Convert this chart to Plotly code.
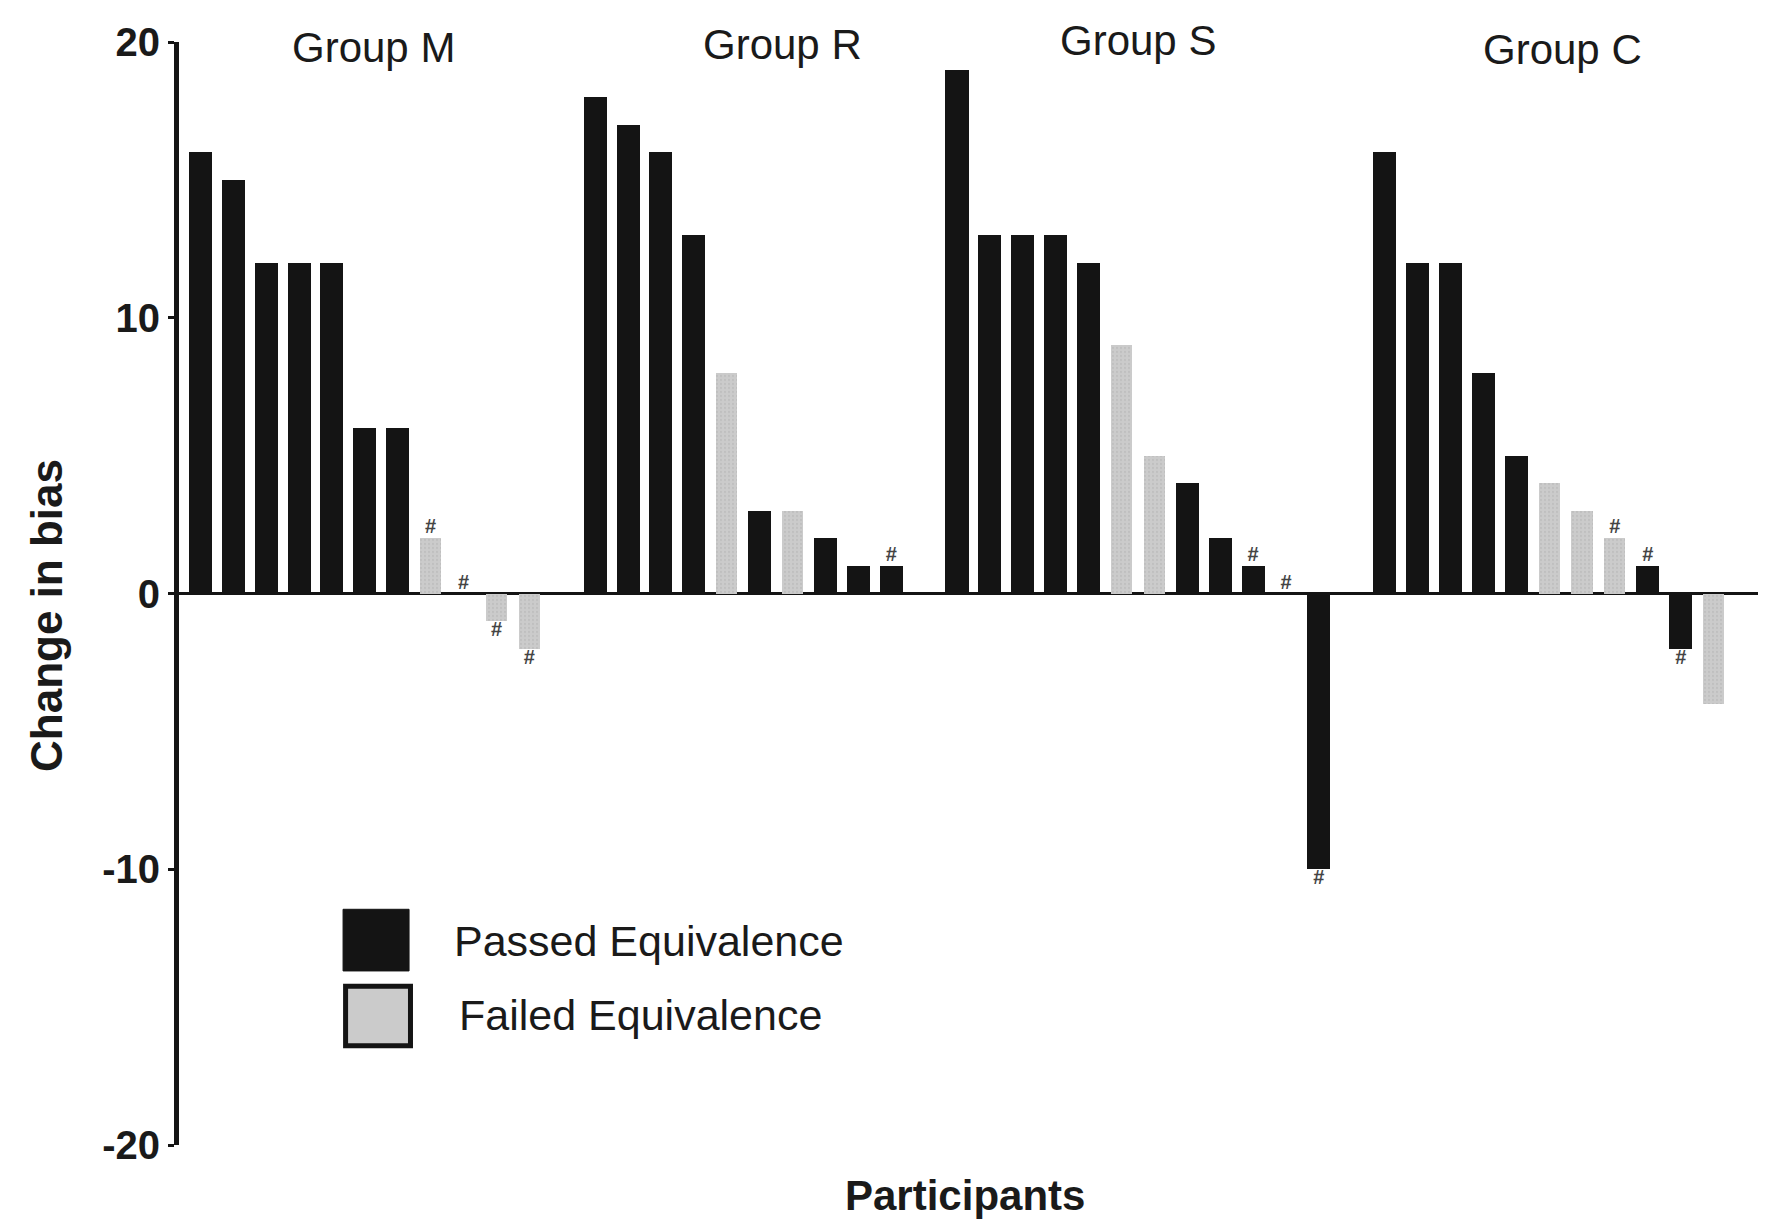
import plotly.graph_objects as go

# ---------------- data ----------------
groups = ["Group M", "Group R", "Group S", "Group C"]

m_vals = [16, 15, 12, 12, 12, 6, 6, 2, 0, -1, -2]
m_pass = [1, 1, 1, 1, 1, 1, 1, 0, 1, 0, 0]
m_hash = [0, 0, 0, 0, 0, 0, 0, 1, 1, 1, 1]

r_vals = [18, 17, 16, 13, 8, 3, 3, 2, 1, 1]
r_pass = [1, 1, 1, 1, 0, 1, 0, 1, 1, 1]
r_hash = [0, 0, 0, 0, 0, 0, 0, 0, 0, 1]

s_vals = [19, 13, 13, 13, 12, 9, 5, 4, 2, 1, 0, -10]
s_pass = [1, 1, 1, 1, 1, 0, 0, 1, 1, 1, 1, 1]
s_hash = [0, 0, 0, 0, 0, 0, 0, 0, 0, 1, 1, 1]

c_vals = [16, 12, 12, 8, 5, 4, 3, 2, 1, -2, -4]
c_pass = [1, 1, 1, 1, 1, 0, 0, 0, 1, 1, 0]
c_hash = [0, 0, 0, 0, 0, 0, 0, 1, 1, 1, 0]

y_ticks = [-20, -10, 0, 10, 20]
legend_labels = ["Passed Equivalence", "Failed Equivalence"]

# ---------------- build positions (one empty slot between groups) ----------------
all_vals, all_pass, all_hash, xs = [], [], [], []
group_centers = []
pos = 0
for vals, ps, hs in [(m_vals, m_pass, m_hash), (r_vals, r_pass, r_hash),
                     (s_vals, s_pass, s_hash), (c_vals, c_pass, c_hash)]:
    start = pos
    for v, p, h in zip(vals, ps, hs):
        xs.append(pos)
        all_vals.append(v)
        all_pass.append(p)
        all_hash.append(h)
        pos += 1
    group_centers.append((start + pos - 1) / 2)
    pos += 1  # gap slot

BLACK = "#141414"
GRAY = "#cbcbcb"

fig = go.Figure()

px = [x for x, p in zip(xs, all_pass) if p]
py = [v for v, p in zip(all_vals, all_pass) if p]
fx = [x for x, p in zip(xs, all_pass) if not p]
fy = [v for v, p in zip(all_vals, all_pass) if not p]

fig.add_trace(go.Bar(x=px, y=py, name=legend_labels[0], width=0.7,
                     marker=dict(color=BLACK, line=dict(width=0)), showlegend=False))
fig.add_trace(go.Bar(x=fx, y=fy, name=legend_labels[1], width=0.64,
                     marker=dict(color=GRAY, line=dict(width=0),
                                 pattern=dict(shape=".", fgcolor="#b4b4b4", bgcolor=GRAY,
                                              size=4, solidity=0.25)),
                     showlegend=False))

# '#' markers
hx_up = [x for x, v, h in zip(xs, all_vals, all_hash) if h and v >= 0]
hy_up = [v for v, h in zip(all_vals, all_hash) if h and v >= 0]
hx_dn = [x for x, v, h in zip(xs, all_vals, all_hash) if h and v < 0]
hy_dn = [v for v, h in zip(all_vals, all_hash) if h and v < 0]
fig.add_trace(go.Scatter(x=hx_up, y=hy_up, mode="text", text=["<b>#</b>"] * len(hx_up),
                         textposition="top center",
                         textfont=dict(family="Arial", size=20, color="#444"),
                         showlegend=False, hoverinfo="skip"))
fig.add_trace(go.Scatter(x=hx_dn, y=hy_dn, mode="text", text=["<b>#</b>"] * len(hx_dn),
                         textposition="bottom center",
                         textfont=dict(family="Arial", size=20, color="#444"),
                         showlegend=False, hoverinfo="skip"))

# group titles
title_offsets = [0.26, 1.2, 0.0, 0.4]
title_y = [0.995, 0.998, 1.001, 0.993]
for g, c, off, ty in zip(groups, group_centers, title_offsets, title_y):
    fig.add_annotation(x=c + off, y=ty, xref="x", yref="paper", text=g,
                       showarrow=False, yanchor="middle",
                       font=dict(family="Arial", size=42, color="#1a1a1a"))

# legend (manual)
fig.add_shape(type="rect", xref="paper", yref="paper", x0=0.1039, x1=0.1457,
              y0=0.1578, y1=0.2137, fillcolor=BLACK, line=dict(color=BLACK, width=1))
fig.add_shape(type="rect", xref="paper", yref="paper", x0=0.1055, x1=0.1466,
              y0=0.0900, y1=0.1440, fillcolor=GRAY, line=dict(color=BLACK, width=5))
fig.add_annotation(x=0.1729, y=0.1849, xref="paper", yref="paper", text=legend_labels[0],
                   showarrow=False, xanchor="left", yanchor="middle",
                   font=dict(family="Arial", size=43, color="#1a1a1a"))
fig.add_annotation(x=0.1760, y=0.1180, xref="paper", yref="paper", text=legend_labels[1],
                   showarrow=False, xanchor="left", yanchor="middle",
                   font=dict(family="Arial", size=43, color="#1a1a1a"))

# axis titles
fig.add_annotation(x=-0.084, y=0.48, xref="paper", yref="paper", text="<b>Change in bias</b>",
                   textangle=-90, showarrow=False, xanchor="center", yanchor="middle",
                   font=dict(family="Arial", size=44, color="#1a1a1a"))
fig.add_annotation(x=0.498, y=-0.046, xref="paper", yref="paper", text="<b>Participants</b>",
                   showarrow=False, xanchor="center", yanchor="middle",
                   font=dict(family="Arial", size=42, color="#1a1a1a"))

fig.update_layout(
    width=1765, height=1218,
    margin=dict(l=171, r=15, t=28, b=81),
    plot_bgcolor="white", paper_bgcolor="white",
    barmode="overlay", bargap=0,
    showlegend=False,
    xaxis=dict(range=[-0.65, 47.35], visible=False, showgrid=False, zeroline=False),
    yaxis=dict(range=[-20, 20], tickvals=y_ticks,
               ticktext=["<b>%d</b>" % t for t in y_ticks],
               tickfont=dict(family="Arial", size=40, color="#1a1a1a"),
               showgrid=False, showline=True, linecolor=BLACK, linewidth=5,
               ticks="outside", ticklen=6, tickwidth=3, tickcolor=BLACK,
               zeroline=True, zerolinecolor=BLACK, zerolinewidth=3),
)

fig.write_html("out.html")
